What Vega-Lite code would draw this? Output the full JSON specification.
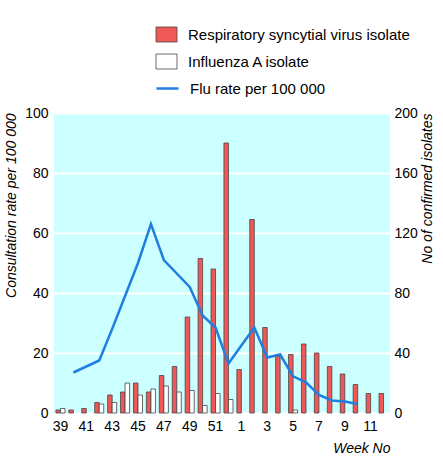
{
  "$schema": "https://vega.github.io/schema/vega-lite/v6.json",
  "width": 336,
  "height": 300,
  "autosize": "none",
  "padding": {"left": 54, "top": 113, "right": 53, "bottom": 49},
  "background": "white",
  "datasets": {
    "bars": [
      {"week": 39, "series": "Respiratory syncytial virus isolate", "count": 2},
      {"week": 39, "series": "Influenza A isolate", "count": 3},
      {"week": 40, "series": "Respiratory syncytial virus isolate", "count": 2},
      {"week": 41, "series": "Respiratory syncytial virus isolate", "count": 3},
      {"week": 42, "series": "Respiratory syncytial virus isolate", "count": 7},
      {"week": 42, "series": "Influenza A isolate", "count": 6},
      {"week": 43, "series": "Respiratory syncytial virus isolate", "count": 12},
      {"week": 43, "series": "Influenza A isolate", "count": 7},
      {"week": 44, "series": "Respiratory syncytial virus isolate", "count": 14},
      {"week": 44, "series": "Influenza A isolate", "count": 20},
      {"week": 45, "series": "Respiratory syncytial virus isolate", "count": 20},
      {"week": 45, "series": "Influenza A isolate", "count": 12},
      {"week": 46, "series": "Respiratory syncytial virus isolate", "count": 14},
      {"week": 46, "series": "Influenza A isolate", "count": 16},
      {"week": 47, "series": "Respiratory syncytial virus isolate", "count": 25},
      {"week": 47, "series": "Influenza A isolate", "count": 18},
      {"week": 48, "series": "Respiratory syncytial virus isolate", "count": 31},
      {"week": 48, "series": "Influenza A isolate", "count": 14},
      {"week": 49, "series": "Respiratory syncytial virus isolate", "count": 64},
      {"week": 49, "series": "Influenza A isolate", "count": 15},
      {"week": 50, "series": "Respiratory syncytial virus isolate", "count": 103},
      {"week": 50, "series": "Influenza A isolate", "count": 5},
      {"week": 51, "series": "Respiratory syncytial virus isolate", "count": 96},
      {"week": 51, "series": "Influenza A isolate", "count": 13},
      {"week": 52, "series": "Respiratory syncytial virus isolate", "count": 180},
      {"week": 52, "series": "Influenza A isolate", "count": 9},
      {"week": 1, "series": "Respiratory syncytial virus isolate", "count": 29},
      {"week": 2, "series": "Respiratory syncytial virus isolate", "count": 129},
      {"week": 3, "series": "Respiratory syncytial virus isolate", "count": 57},
      {"week": 4, "series": "Respiratory syncytial virus isolate", "count": 38},
      {"week": 5, "series": "Respiratory syncytial virus isolate", "count": 39},
      {"week": 5, "series": "Influenza A isolate", "count": 2},
      {"week": 6, "series": "Respiratory syncytial virus isolate", "count": 46},
      {"week": 7, "series": "Respiratory syncytial virus isolate", "count": 40},
      {"week": 8, "series": "Respiratory syncytial virus isolate", "count": 31},
      {"week": 9, "series": "Respiratory syncytial virus isolate", "count": 26},
      {"week": 10, "series": "Respiratory syncytial virus isolate", "count": 19},
      {"week": 11, "series": "Respiratory syncytial virus isolate", "count": 13},
      {"week": 12, "series": "Respiratory syncytial virus isolate", "count": 13}
    ],
    "rate": [
      {"week": 40, "rate": 13.5},
      {"week": 41, "rate": 15.5},
      {"week": 42, "rate": 17.5},
      {"week": 43, "rate": 28},
      {"week": 44, "rate": 39},
      {"week": 45, "rate": 50},
      {"week": 46, "rate": 63},
      {"week": 47, "rate": 51},
      {"week": 48, "rate": 46.5},
      {"week": 49, "rate": 42},
      {"week": 50, "rate": 32.5},
      {"week": 51, "rate": 28.5},
      {"week": 52, "rate": 16.5},
      {"week": 1, "rate": 22.5},
      {"week": 2, "rate": 28.5},
      {"week": 3, "rate": 18.5},
      {"week": 4, "rate": 19.5},
      {"week": 5, "rate": 12.2},
      {"week": 6, "rate": 10.2},
      {"week": 7, "rate": 6},
      {"week": 8, "rate": 4.2},
      {"week": 9, "rate": 3.8},
      {"week": 10, "rate": 3}
    ]
  },
  "config": {
    "view": {"fill": "#ccffff", "stroke": null},
    "font": "Liberation Sans",
    "axis": {
      "domain": false,
      "ticks": false,
      "grid": false,
      "labelFont": "Liberation Sans",
      "labelFontSize": 14,
      "labelColor": "black",
      "titleFont": "Liberation Sans",
      "titleFontSize": 14,
      "titleFontStyle": "italic",
      "titleFontWeight": "normal",
      "titleColor": "black"
    }
  },
  "layer": [
    {
      "data": {"name": "bars"},
      "mark": {"type": "bar", "stroke": "#444444", "strokeWidth": 0.8},
      "encoding": {
        "x": {
          "field": "week",
          "type": "ordinal",
          "sort": [39,40,41,42,43,44,45,46,47,48,49,50,51,52,1,2,3,4,5,6,7,8,9,10,11,12],
          "scale": {"domain": [39,40,41,42,43,44,45,46,47,48,49,50,51,52,1,2,3,4,5,6,7,8,9,10,11,12], "paddingInner": 0.3, "paddingOuter": 0.15},
          "axis": {
            "title": "Week No",
            "titleAnchor": "end",
            "titlePadding": 8,
            "labelAngle": 0,
            "labelPadding": 6,
            "values": [39,41,43,45,47,49,51,1,3,5,7,9,11]
          }
        },
        "xOffset": {
          "field": "series",
          "type": "nominal",
          "sort": ["Respiratory syncytial virus isolate", "Influenza A isolate"],
          "scale": {"domain": ["Respiratory syncytial virus isolate", "Influenza A isolate"], "paddingInner": 0, "paddingOuter": 0}
        },
        "y": {
          "field": "count",
          "type": "quantitative",
          "scale": {"domain": [0, 200]},
          "axis": {
            "orient": "right",
            "title": "No of confirmed isolates",
            "titleAngle": -90,
            "titleAnchor": "end",
            "titleAlign": "right",
            "titleBaseline": "middle",
            "values": [0, 40, 80, 120, 160, 200],
            "labelPadding": 4,
            "titlePadding": 10
          }
        },
        "fill": {
          "field": "series",
          "type": "nominal",
          "scale": {"domain": ["Respiratory syncytial virus isolate", "Influenza A isolate"], "range": ["#f05858", "#ffffff"]},
          "legend": {
            "title": null,
            "orient": "none",
            "legendX": 104.5,
            "legendY": -86.5,
            "padding": 0,
            "symbolType": "M-1.4,-1H1.4V1H-1.4Z",
            "symbolSize": 225,
            "symbolStrokeColor": "#444444",
            "symbolStrokeWidth": 0.8,
            "symbolOpacity": 1,
            "labelFont": "Liberation Sans",
            "labelFontSize": 15,
            "labelColor": "black",
            "labelOffset": 13.5,
            "rowPadding": 7,
            "labelLimit": 400
          }
        }
      }
    },
    {
      "data": {"name": "rate"},
      "mark": {"type": "line", "strokeWidth": 2.5},
      "encoding": {
        "x": {"field": "week", "type": "ordinal", "sort": [39,40,41,42,43,44,45,46,47,48,49,50,51,52,1,2,3,4,5,6,7,8,9,10,11,12]},
        "y": {
          "field": "rate",
          "type": "quantitative",
          "scale": {"domain": [0, 100]},
          "axis": {
            "orient": "left",
            "title": "Consultation rate per 100 000",
            "titleAnchor": "end",
            "values": [0, 20, 40, 60, 80, 100],
            "grid": true,
            "gridColor": "white",
            "gridWidth": 2,
            "gridOpacity": 1,
            "labelPadding": 6,
            "titlePadding": 6
          }
        },
        "stroke": {
          "datum": "Flu rate per 100 000",
          "type": "nominal",
          "scale": {"range": ["#1f7fe0"]},
          "legend": {
            "title": null,
            "orient": "none",
            "legendX": 101,
            "legendY": -37,
            "padding": 0,
            "symbolType": "stroke",
            "symbolSize": 484,
            "symbolStrokeWidth": 2.5,
            "labelFont": "Liberation Sans",
            "labelFontSize": 15,
            "labelColor": "black",
            "labelOffset": 10
          }
        }
      }
    }
  ],
  "resolve": {"scale": {"y": "independent"}}
}
